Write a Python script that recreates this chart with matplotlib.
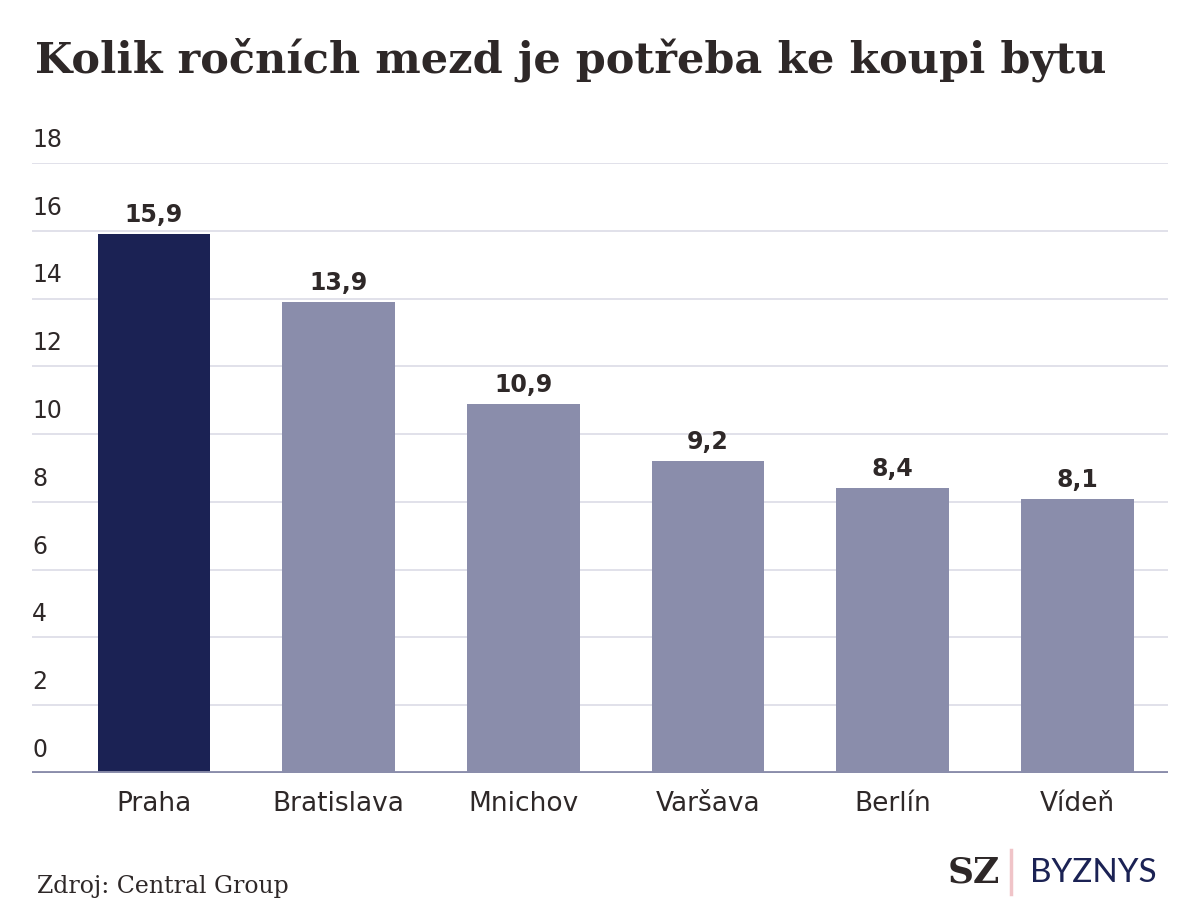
import matplotlib.pyplot as plt

plt.rcParams['font.family'] = ['DejaVu Sans']

mesta = ['Praha', 'Bratislava', 'Mnichov', 'Varšava', 'Berlín', 'Vídeň']
hodnoty = [15.9, 13.9, 10.9, 9.2, 8.4, 8.1]
yticky = [0, 2, 4, 6, 8, 10, 12, 14, 16, 18]

barvy = ['#1b2254'] + ['#8a8dab'] * (len(mesta) - 1)
text_c = '#2e2828'

fig = plt.figure(figsize=(12, 9.21), dpi=100)
ax = fig.add_axes([32 / 1200, 1 - 773 / 921, (1168 - 32) / 1200, (773 - 163) / 921])

x = range(len(mesta))
ax.bar(x, hodnoty, width=0.61, color=barvy, zorder=2)
ax.set_xlim(-0.66, 5.49)
ax.set_ylim(0, 18)

# mrizka + popisky osy y nad carou
for t in yticky:
    if t > 0:
        ax.axhline(t, color='#dcdce6', lw=1.2, zorder=1)
    ax.annotate(str(t), (0, t), xycoords=('axes fraction', 'data'),
                xytext=(0, 8), textcoords='offset points',
                ha='left', va='bottom', fontsize=17, color=text_c)
ax.axhline(0, color='#8a8dab', lw=3.5, zorder=3)

for xi, v in zip(x, hodnoty):
    ax.annotate(f'{v:.1f}'.replace('.', ','), (xi, v), xytext=(0, 5),
                textcoords='offset points', ha='center', va='bottom',
                fontsize=17, fontweight='bold', color=text_c)

ax.set_xticks(list(x))
ax.set_xticklabels(mesta, fontsize=19, color=text_c)
ax.tick_params(axis='x', length=0, pad=13)
ax.set_yticks([])
for s in ax.spines.values():
    s.set_visible(False)

fig.text(35 / 1200, 1 - 60 / 921, 'Kolik ročních mezd je potřeba ke koupi bytu',
         fontsize=31, fontweight='bold', family='DejaVu Serif', color=text_c,
         va='center', ha='left')
fig.text(37 / 1200, 1 - 886 / 921, 'Zdroj: Central Group', fontsize=17,
         family='DejaVu Serif', color=text_c, va='center', ha='left')

# logo
fig.text(1000 / 1200, 1 - 872 / 921, 'SZ', fontsize=26, fontweight='bold',
         family='DejaVu Serif', color=text_c, va='center', ha='right')
fig.add_artist(plt.Line2D([1011 / 1200, 1011 / 1200], [1 - 894 / 921, 1 - 850 / 921],
                          color='#f0c4c8', lw=2.5))
fig.text(1030 / 1200, 1 - 873 / 921, 'BYZNYS', fontsize=24, fontweight='normal',
         family='Lato', color='#1b2254', va='center', ha='left')

fig.savefig('out.png', dpi=100)
